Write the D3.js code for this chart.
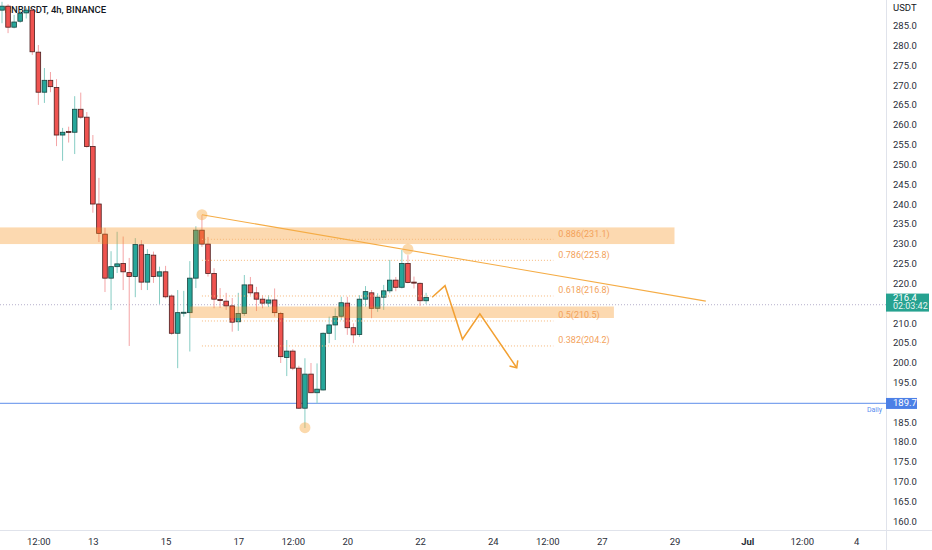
<!DOCTYPE html>
<html lang="en">
<head>
  <meta charset="UTF-8">
  <title>BNBUSDT, 4h, BINANCE</title>
  <style>
    body { margin: 0; background: #fff; font-family: Roboto, "Liberation Sans", sans-serif; }
    svg { display: block; }
  </style>
  <script src="https://cdn.jsdelivr.net/npm/d3@7"></script>
</head>
<body>
<script>
  // 4h bars, [open, high, low, close], first bar 10 Jun 2022 12:00
  var candles = [
    [288.9, 291.0, 285.6, 289.9], [289.9, 290.4, 283.1, 284.6], [284.6, 287.7, 284.3, 285.9],
    [286.1, 288.9, 285.7, 288.1], [288.2, 289.5, 286.8, 288.9], [288.9, 289.3, 277.6, 278.4],
    [278.3, 280.1, 265.0, 268.2], [268.2, 274.3, 265.5, 271.2], [271.2, 273.3, 268.2, 269.6],
    [269.4, 271.5, 254.6, 257.4], [257.4, 259.2, 250.9, 258.1], [258.3, 259.5, 255.5, 258.1],
    [258.1, 267.2, 252.6, 263.9], [263.9, 268.1, 261.5, 261.9], [261.9, 263.2, 254.2, 254.5],
    [254.5, 257.4, 237.8, 240.0], [240.0, 246.6, 230.4, 232.6], [232.4, 234.0, 217.8, 221.3],
    [221.3, 228.1, 213.3, 224.2], [224.2, 233.0, 222.6, 224.9], [225.0, 231.8, 218.3, 222.9],
    [222.7, 226.4, 204.2, 221.7], [221.7, 231.4, 216.5, 229.8], [229.7, 230.9, 218.3, 220.3],
    [220.3, 228.6, 218.3, 227.3], [227.1, 228.0, 220.1, 221.7], [221.8, 224.2, 214.8, 222.9],
    [222.9, 224.4, 216.2, 216.6], [216.8, 217.2, 207.0, 207.4], [207.4, 218.3, 198.6, 212.6],
    [212.5, 218.1, 211.6, 212.7], [212.6, 225.6, 202.8, 221.3], [221.3, 234.4, 218.8, 233.4],
    [233.4, 237.2, 229.2, 229.9], [229.9, 231.7, 221.7, 222.5], [222.5, 223.8, 213.7, 216.0],
    [215.9, 218.8, 213.8, 215.8], [215.5, 217.6, 213.3, 214.3], [214.3, 216.3, 207.8, 210.2],
    [210.3, 217.6, 208.0, 212.4], [212.4, 222.1, 211.8, 219.6], [219.6, 221.6, 217.0, 217.6],
    [217.6, 219.1, 213.0, 216.0], [216.0, 217.0, 213.7, 215.0], [215.0, 217.0, 214.0, 215.8],
    [215.8, 218.7, 211.6, 212.6], [212.4, 212.8, 199.9, 201.5], [201.3, 205.7, 196.6, 202.9],
    [202.9, 203.4, 198.1, 198.6], [198.6, 199.2, 188.3, 188.5], [188.5, 201.1, 183.5, 197.1],
    [197.1, 199.9, 192.3, 192.4], [192.4, 199.8, 189.7, 193.3], [193.1, 207.6, 193.0, 207.4],
    [207.4, 211.6, 204.9, 209.5], [209.5, 213.7, 205.7, 211.6], [211.7, 216.6, 210.7, 215.1],
    [215.0, 216.6, 207.0, 208.8], [208.8, 209.9, 204.9, 207.0], [207.1, 217.0, 206.5, 216.0],
    [216.0, 219.3, 214.1, 217.9], [217.6, 218.3, 211.2, 213.7], [213.7, 217.5, 212.8, 216.5],
    [216.5, 219.6, 213.3, 218.1], [218.1, 225.9, 217.5, 220.8], [220.8, 221.6, 218.0, 219.0],
    [219.0, 228.4, 218.7, 225.0], [225.0, 227.1, 220.0, 220.2], [220.3, 221.7, 218.7, 220.1],
    [220.0, 220.2, 214.3, 215.6], [215.6, 217.6, 214.8, 216.4]
  ];
  var firstBar = new Date(2022, 5, 10, 12);

  var priceTicks = [285, 280, 275, 270, 265, 260, 255, 250, 245, 240, 235, 230, 225, 220,
                    210, 205, 200, 195, 185, 180, 175, 170, 165, 160];
  var timeTicks = [
    [new Date(2022, 5, 11, 12), "12:00"], [new Date(2022, 5, 13), "13"], [new Date(2022, 5, 15), "15"],
    [new Date(2022, 5, 17), "17"], [new Date(2022, 5, 18, 12), "12:00"], [new Date(2022, 5, 20), "20"],
    [new Date(2022, 5, 22), "22"], [new Date(2022, 5, 24), "24"], [new Date(2022, 5, 25, 12), "12:00"],
    [new Date(2022, 5, 27), "27"], [new Date(2022, 5, 29), "29"], [new Date(2022, 6, 1), "Jul"],
    [new Date(2022, 6, 2, 12), "12:00"], [new Date(2022, 6, 4), "4"]
  ];

  // drawings
  var fibLevels = [["0.886", 231.1], ["0.786", 225.8], ["0.618", 216.8], ["0.5", 210.5], ["0.382", 204.2]];
  var fibSpan = [new Date(2022, 5, 16), new Date(2022, 5, 25, 16)];
  var zones = [
    [new Date(2022, 5, 9), new Date(2022, 5, 29), 229.9, 234.1],
    [new Date(2022, 5, 15, 16), new Date(2022, 5, 27, 8), 211.25, 214.15]
  ];
  var trendLine = [[new Date(2022, 5, 16), 237.3], [new Date(2022, 5, 29, 20, 40), 215.5]];
  var markers = [[33, 237.3], [67, 228.6], [50, 183.6]];
  var projection = [
    [new Date(2022, 5, 22, 8), 216.5], [new Date(2022, 5, 22, 16, 30), 219.4],
    [new Date(2022, 5, 23, 4), 205.9], [new Date(2022, 5, 23, 15, 30), 212.3],
    [new Date(2022, 5, 24, 15, 50), 198.7]
  ];
  var dailyLevel = 189.7;
  var refLevel = 214.6;
  var lastPrice = 216.4;
  var countdown = "02:03:42";

  var W = 932, H = 550, plotW = 886, plotH = 530;

  var barTime = function(i) { return new Date(firstBar.getTime() + i * 4 * 3600e3); };

  var x = d3.scaleTime()
    .domain([firstBar, barTime(70)])
    .range([2, 426.1]);
  var y = d3.scaleLinear()
    .domain([160, 285])
    .range([521.2, 25.6]);

  var svg = d3.select("body").append("svg")
    .attr("width", W)
    .attr("height", H);

  svg.append("defs").append("clipPath").attr("id", "plot")
    .append("rect").attr("width", plotW).attr("height", plotH);

  svg.append("defs").append("marker")
    .attr("id", "arrow")
    .attr("markerUnits", "userSpaceOnUse")
    .attr("viewBox", "-8 -8 10 16")
    .attr("refX", 0).attr("refY", 0)
    .attr("markerWidth", 10).attr("markerHeight", 16)
    .attr("orient", "auto")
    .append("path")
    .attr("d", "M-5.5,-5 L0,0 L-5.5,5")
    .attr("fill", "none")
    .attr("stroke", "#f2a032")
    .attr("stroke-width", 1.5);

  var plot = svg.append("g").attr("clip-path", "url(#plot)");

  // title sits under the bars
  plot.append("text")
    .attr("x", 5).attr("y", 13)
    .attr("font-size", 9.5)
    .attr("font-weight", 500)
    .attr("fill", "#131722")
    .text("BNBUSDT, 4h, BINANCE");

  // reference dotted line
  plot.append("line")
    .attr("x1", 0).attr("x2", plotW)
    .attr("y1", y(refLevel)).attr("y2", y(refLevel))
    .attr("stroke", "#b7b0cc")
    .attr("stroke-dasharray", "1,2");

  // daily level
  plot.append("line")
    .attr("x1", 0).attr("x2", plotW)
    .attr("y1", y(dailyLevel)).attr("y2", y(dailyLevel))
    .attr("stroke", "#7ea4ee")
    .attr("stroke-width", 1.2);
  plot.append("text")
    .attr("x", 882).attr("y", y(dailyLevel) + 6)
    .attr("dy", "0.32em")
    .attr("text-anchor", "end")
    .attr("font-size", 7)
    .attr("fill", "#5b8def")
    .text("Daily");

  // candles
  var bars = plot.append("g").selectAll("g").data(candles).enter().append("g");
  bars.append("line")
    .attr("x1", function(d, i) { return x(barTime(i)); })
    .attr("x2", function(d, i) { return x(barTime(i)); })
    .attr("y1", function(d) { return y(d[1]); })
    .attr("y2", function(d) { return y(d[2]); })
    .attr("stroke", function(d) { return d[3] >= d[0] ? "#86cdc4" : "#f4a4a6"; })
    .attr("stroke-width", 1);
  bars.append("rect")
    .attr("x", function(d, i) { return x(barTime(i)) - 2.3; })
    .attr("width", 4.6)
    .attr("y", function(d) { return y(Math.max(d[0], d[3])); })
    .attr("height", function(d) { return Math.max(1, Math.abs(y(d[0]) - y(d[3]))); })
    .attr("fill", function(d) { return d[3] >= d[0] ? "#26a69a" : "#ef5350"; })
    .attr("stroke", function(d) { return d[3] >= d[0] ? "#17423d" : "#4a1d1d"; })
    .attr("stroke-width", 0.8);

  // zones on top of bars
  plot.append("g").selectAll("rect").data(zones).enter().append("rect")
    .attr("x", function(d) { return x(d[0]); })
    .attr("width", function(d) { return x(d[1]) - x(d[0]); })
    .attr("y", function(d) { return y(d[3]); })
    .attr("height", function(d) { return y(d[2]) - y(d[3]); })
    .attr("fill", "rgba(247,147,30,0.35)");

  // fib retracement
  var fib = plot.append("g");
  fib.selectAll("line").data(fibLevels).enter().append("line")
    .attr("x1", x(fibSpan[0])).attr("x2", x(fibSpan[1]))
    .attr("y1", function(d) { return y(d[1]); })
    .attr("y2", function(d) { return y(d[1]); })
    .attr("stroke", "#f6b77a")
    .attr("stroke-dasharray", "1,2");
  fib.selectAll("text").data(fibLevels).enter().append("text")
    .attr("x", x(fibSpan[1]) + 5)
    .attr("y", function(d) { return y(d[1]) - 5.5; })
    .attr("dy", "0.32em")
    .attr("font-size", 9)
    .attr("fill", "#f3a25b")
    .text(function(d) { return d[0] + "(" + d[1].toFixed(1) + ")"; });

  // trend line
  plot.append("line")
    .attr("x1", x(trendLine[0][0])).attr("y1", y(trendLine[0][1]))
    .attr("x2", x(trendLine[1][0])).attr("y2", y(trendLine[1][1]))
    .attr("stroke", "#f5ac45")
    .attr("stroke-width", 1.1);

  // swing markers
  plot.append("g").selectAll("circle").data(markers).enter().append("circle")
    .attr("cx", function(d) { return x(barTime(d[0])); })
    .attr("cy", function(d) { return y(d[1]); })
    .attr("r", 5.5)
    .attr("fill", "rgba(247,170,70,0.45)");

  // projected path
  plot.append("path")
    .datum(projection)
    .attr("d", d3.line().x(function(d) { return x(d[0]); }).y(function(d) { return y(d[1]); }))
    .attr("fill", "none")
    .attr("stroke", "#f2a032")
    .attr("stroke-width", 1.5)
    .attr("marker-end", "url(#arrow)");

  // axes frame
  svg.append("line")
    .attr("x1", plotW + 0.5).attr("x2", plotW + 0.5)
    .attr("y1", 0).attr("y2", H)
    .attr("stroke", "#e0e3eb");
  svg.append("line")
    .attr("x1", 0).attr("x2", W)
    .attr("y1", plotH + 0.5).attr("y2", plotH + 0.5)
    .attr("stroke", "#e0e3eb");

  var yAxis = svg.append("g")
    .attr("transform", "translate(" + plotW + ",0)")
    .call(d3.axisRight(y).tickValues(priceTicks).tickFormat(d3.format(".1f")).tickSize(0).tickPadding(7));
  yAxis.select(".domain").remove();
  yAxis.selectAll("text")
    .attr("font-size", 9.5)
    .attr("font-family", "Roboto, 'Liberation Sans', sans-serif")
    .attr("fill", "#2a2e39");

  svg.append("text")
    .attr("x", plotW + 7).attr("y", 8)
    .attr("dy", "0.32em")
    .attr("font-size", 9.5)
    .attr("fill", "#131722")
    .text("USDT");

  var tickLabel = new Map(timeTicks.map(function(t) { return [t[0].getTime(), t[1]]; }));
  var xAxis = svg.append("g")
    .attr("transform", "translate(0," + plotH + ")")
    .call(d3.axisBottom(x)
      .tickValues(timeTicks.map(function(t) { return t[0]; }))
      .tickFormat(function(d) { return tickLabel.get(d.getTime()); })
      .tickSize(0).tickPadding(8));
  xAxis.select(".domain").remove();
  xAxis.selectAll("text")
    .attr("font-size", 9.5)
    .attr("font-family", "Roboto, 'Liberation Sans', sans-serif")
    .attr("fill", "#2a2e39")
    .attr("font-weight", function(d) { return tickLabel.get(d.getTime()) === "Jul" ? 700 : 400; });

  // price badges
  var lastY = y(lastPrice);
  svg.append("rect")
    .attr("x", plotW).attr("y", lastY - 4)
    .attr("width", 43).attr("height", 18)
    .attr("fill", "#26a290");
  svg.append("text")
    .attr("x", plotW + 7).attr("y", lastY)
    .attr("dy", "0.32em")
    .attr("font-size", 9.5).attr("fill", "#fff")
    .text(lastPrice.toFixed(1));
  svg.append("text")
    .attr("x", plotW + 7).attr("y", lastY + 8.5)
    .attr("dy", "0.32em")
    .attr("font-size", 9).attr("fill", "#e6f5f2")
    .text(countdown);

  var dailyY = y(dailyLevel);
  svg.append("rect")
    .attr("x", plotW).attr("y", dailyY - 5.5)
    .attr("width", 31).attr("height", 11)
    .attr("fill", "#4c80e6");
  svg.append("text")
    .attr("x", plotW + 7).attr("y", dailyY)
    .attr("dy", "0.32em")
    .attr("font-size", 9.5).attr("fill", "#fff")
    .text(dailyLevel.toFixed(1));
</script>
</body>
</html>
